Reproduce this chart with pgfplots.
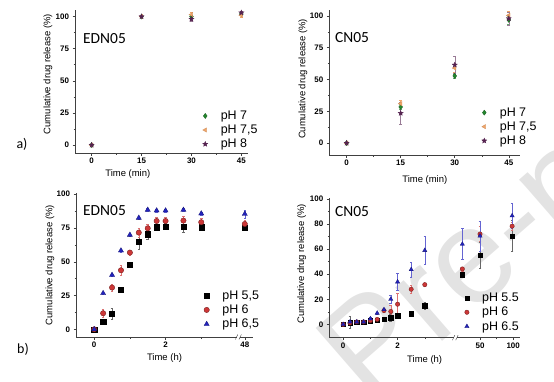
\documentclass[border=0pt]{standalone}
\usepackage{fontspec}
\setmainfont{Liberation Sans}
\newfontfamily\calfont{Carlito}
\usepackage{pgfplots}
\pgfplotsset{compat=1.18}
\usetikzlibrary{plotmarks}

\definecolor{cgreen}{RGB}{35,135,45}
\definecolor{corange}{RGB}{240,165,105}
\definecolor{cpurple}{RGB}{85,35,80}
\definecolor{cred}{RGB}{205,55,55}
\definecolor{cblue}{RGB}{35,35,190}

\pgfdeclareplotmark{fstar}{%
  \pgfpathmoveto{\pgfpointpolar{90}{\pgfplotmarksize}}%
  \pgfpathlineto{\pgfpointpolar{126}{0.45\pgfplotmarksize}}%
  \pgfpathlineto{\pgfpointpolar{162}{\pgfplotmarksize}}%
  \pgfpathlineto{\pgfpointpolar{198}{0.45\pgfplotmarksize}}%
  \pgfpathlineto{\pgfpointpolar{234}{\pgfplotmarksize}}%
  \pgfpathlineto{\pgfpointpolar{270}{0.45\pgfplotmarksize}}%
  \pgfpathlineto{\pgfpointpolar{306}{\pgfplotmarksize}}%
  \pgfpathlineto{\pgfpointpolar{342}{0.45\pgfplotmarksize}}%
  \pgfpathlineto{\pgfpointpolar{18}{\pgfplotmarksize}}%
  \pgfpathlineto{\pgfpointpolar{54}{0.45\pgfplotmarksize}}%
  \pgfpathclose\pgfusepathqfillstroke}

\pgfplotsset{
  base/.style={
    scale only axis, clip=false, anchor=south west,
    axis lines=left,
    axis line style={-, line width=0.5pt, black!75},
    tick align=outside,
    major tick length=2.5bp, minor tick length=1.5bp,
    every tick/.style={black!75, line width=0.5pt},
    /pgf/number format/assume math mode=true,
    ticklabel style={font=\fontsize{8}{8}\selectfont\bfseries},
    xticklabel style={yshift=1bp},
    label style={font=\fontsize{9.5}{10}\selectfont},
    ylabel={Cumulative drug release (\%)},
    legend style={draw=none, fill=none, font=\fontsize{12.5}{13}\selectfont,
      inner sep=0pt, row sep=0pt, anchor=west,
      /tikz/every odd column/.append style={column sep=11bp}},
    legend cell align=left,
    error bars/y dir=both, error bars/y explicit,
    error bars/error bar style={line width=0.4pt},
    error bars/error mark options={rotate=90, mark size=1.3pt, line width=0.4pt},
  },
  s1/.style={only marks, mark=diamond*, mark size=2.6pt, color=cgreen,
    mark options={fill=cgreen, draw=cgreen!70!black, line width=0.3pt},
    error bars/error bar style={cgreen!70}},
  s2/.style={only marks, mark=triangle*, mark size=2.5pt, color=corange,
    mark options={rotate=90, fill=corange, draw=corange!85!black, line width=0.3pt},
    error bars/error bar style={corange}},
  s3/.style={only marks, mark=fstar, mark size=2.7pt, color=cpurple,
    mark options={fill=cpurple, draw=cpurple, line width=0.3pt},
    error bars/error bar style={cpurple!60}},
  b1/.style={only marks, mark=square*, mark size=#1, color=black,
    mark options={fill=black, draw=black, line width=0.3pt},
    error bars/error bar style={black!60}},
  b2/.style={only marks, mark=*, mark size=#1, color=cred,
    mark options={fill=cred, draw=cred!60!black, line width=0.4pt},
    error bars/error bar style={cred!70}},
  b3/.style={only marks, mark=triangle*, mark size=#1, color=cblue,
    mark options={fill=cblue, draw=cblue!60!black, line width=0.3pt},
    error bars/error bar style={cblue!70}},
}

\begin{document}
\begin{tikzpicture}[x=1bp,y=1bp]
\path[use as bounding box] (0,0) rectangle (554,381);

% watermark
\node[anchor=base west, rotate=41, text=black!11, inner sep=0pt,
  font=\fontsize{135}{135}\selectfont] at (368,-25) {Pre-proof};

% ---------------- a) EDN05 ----------------
\begin{axis}[base, at={(75bp,228bp)},
  width=173bp, height=143.4bp,
  xmin=-5, xmax=47, ymin=-6.2, ymax=105.4,
  xtick={0,15,30,45}, minor x tick num=1,
  ytick={0,25,50,75,100}, minor y tick num=1,
  xlabel={Time (min)},
  xlabel style={at={(axis description cs:0.305,-0.146)}, anchor=center},
  ylabel style={at={(axis description cs:-0.156,0.55)}, anchor=center},
  legend style={at={(axis description cs:0.737,0.160)}},
]
\addplot+[s1] table[x=x,y=y,y error=e] {
x y e
0 0 0.5
15 100 0.6
30 100 1.2
45 102 1.0
};
\addplot+[s2] table[x=x,y=y,y error=e] {
x y e
0 0 0.5
15 100 0.6
30 101.5 1.5
45 101 1.2
};
\addplot+[s3] table[x=x,y=y,y error=e] {
x y e
0 0 0.5
15 100 0.6
30 98 1.8
45 103 1.2
};
\legend{pH 7, {pH 7,5}, pH 8}
\end{axis}

% ---------------- a) CN05 ----------------
\begin{axis}[base, at={(329.3bp,226bp)},
  width=191bp, height=145bp,
  xmin=-4.8, xmax=48.2, ymin=-9.4, ymax=104.7,
  xtick={0,15,30,45}, minor x tick num=1,
  ytick={0,25,50,75,100}, minor y tick num=1,
  xlabel={Time (min)},
  xlabel style={at={(axis description cs:0.5,-0.172)}, anchor=center},
  ylabel style={at={(axis description cs:-0.138,0.524)}, anchor=center},
  legend style={at={(axis description cs:0.797,0.195)}},
]
\addplot+[s1] table[x=x,y=y,y error=e] {
x y e
0 0 0.5
15 28.4 2
30 52.8 1.5
45 96.9 3
};
\addplot+[s2] table[x=x,y=y,y error=e] {
x y e
0 0 0.5
15 31 2.5
30 59 3
45 100.5 3
};
\addplot+[s3] table[x=x,y=y,y error=e] {
x y e
0 0 0.5
15 23.5 8.3
30 61.5 6.5
45 98 5
};
\legend{pH 7, {pH 7,5}, pH 8}
\end{axis}

% ---------------- b) EDN05 ----------------
\begin{axis}[base, at={(76bp,44bp)},
  width=177bp, height=143.7bp,
  xmin=-0.51, xmax=4.45, ymin=-5.7, ymax=100.7,
  xtick={0,2,4.22}, xticklabels={0,2,48}, minor xtick={1,3},
  ytick={0,25,50,75,100}, minor y tick num=1,
  xlabel={Time (h)},
  xlabel style={at={(axis description cs:0.5,-0.148)}, anchor=center},
  ylabel style={at={(axis description cs:-0.147,0.50)}, anchor=center},
  legend style={at={(axis description cs:0.722,0.188)}},
]
% x = hours; the last point (48 h) is drawn past the axis break at 4.22
\addplot+[b1=2.6pt] table[x=x,y=y,y error=e] {
x y e
0 0 0.5
0.25 5.7 1.5
0.5 11.4 4
0.75 29.6 1
1 48.1 1
1.25 65 6
1.5 70.4 4
1.75 75.6 2
2 76.3 2.5
2.5 75.8 4
3 75.6 2
4.22 75.3 2
};
\addplot+[b2=2.7pt] table[x=x,y=y,y error=e] {
x y e
0 0 0.5
0.25 11.9 3
0.5 30.9 2.5
0.75 43.7 4
1 56.8 2
1.25 71.6 3.5
1.5 74.8 3
1.75 80.2 3
2 80.2 3
2.5 80.5 3
3 79.3 3
4.22 78 3
};
\addplot+[b3=3pt] table[x=x,y=y,y error=e] {
x y e
0 0 0.5
0.25 26.7 1
0.5 40.2 1
0.75 58.3 1
1 69.9 1
1.25 82.5 1
1.5 88.4 1
1.75 87.9 1
2 87.9 1
2.5 88.4 1
3 85.7 1
4.22 85.4 3
};
\legend{{pH 5,5}, pH 6, {pH 6,5}}
\draw[white, line width=2.5bp] (axis cs:3.99,-5.7) -- (axis cs:4.09,-5.7);
\draw[black!75, line width=0.4pt] (axis cs:3.99,-5.7) ++(-1.2bp,-2.5bp) -- ++(2.4bp,5bp);
\draw[black!75, line width=0.4pt] (axis cs:4.09,-5.7) ++(-1.2bp,-2.5bp) -- ++(2.4bp,5bp);
\end{axis}

% ---------------- b) CN05 ----------------
\begin{axis}[base, at={(329.3bp,43.3bp)},
  width=190.7bp, height=139.4bp,
  xmin=-0.51, xmax=6.5, ymin=-10.6, ymax=100.5,
  xtick={0,2,5.03,6.25}, xticklabels={0,2,50,100}, minor xtick={1,3,5.64},
  ytick={0,20,40,60,80,100}, minor y tick num=1,
  xlabel={Time (h)},
  xlabel style={at={(axis description cs:0.5,-0.16)}, anchor=center},
  ylabel style={at={(axis description cs:-0.145,0.53)}, anchor=center},
  legend style={at={(axis description cs:0.709,0.182)}},
]
% x = hours up to 3 h; 24, 48, 96 h are drawn past the axis break at 4.38, 5.03, 6.21
\addplot+[b1=2.2pt] table[x=x,y=y,y error=e] {
x y e
0 0 0.5
0.25 1.5 4.8
0.5 2 0.8
0.75 2 0.8
1 3 0.8
1.25 3.5 0.8
1.5 4.2 0.8
1.75 5.3 3
2 6.9 1
2.5 8.5 1
3 14.8 3
4.38 39.7 1.5
5.03 55.4 10.5
6.21 70.5 12.5
};
\addplot+[b2=2.2pt] table[x=x,y=y,y error=e] {
x y e
0 0 0.5
0.25 1.2 1
0.5 2 0.8
0.75 2 0.8
1 3 0.8
1.25 4 0.8
1.5 11 1
1.75 10.3 5
2 16.1 8.6
2.5 28 3.5
3 31.7 1
4.38 44.2 1.5
5.03 72 6
6.21 78.3 3
};
\addplot+[b3=2.5pt] table[x=x,y=y,y error=e] {
x y e
0 0 0.5
0.25 2 1.5
0.5 2 0.8
0.75 2 0.8
1 4.5 1
1.25 9 1
1.5 11.8 1.5
1.75 20.1 3
2 33.9 6.6
2.5 43.7 6.2
3 59 11.3
4.38 64 12.3
5.03 70.5 12
6.21 86.6 10
};
\legend{pH 5.5, pH 6, pH 6.5}
\draw[white, line width=2.5bp] (axis cs:4.06,-10.6) -- (axis cs:4.18,-10.6);
\draw[black!75, line width=0.4pt] (axis cs:4.06,-10.6) ++(-1.2bp,-2.5bp) -- ++(2.4bp,5bp);
\draw[black!75, line width=0.4pt] (axis cs:4.18,-10.6) ++(-1.2bp,-2.5bp) -- ++(2.4bp,5bp);
\end{axis}

% panel titles and letters
\node[anchor=west, font=\calfont\fontsize{15.5}{16}\selectfont, inner sep=0pt] at (83,342) {EDN05};
\node[anchor=west, font=\calfont\fontsize{15.5}{16}\selectfont, inner sep=0pt] at (335,343) {CN05};
\node[anchor=west, font=\calfont\fontsize{15.5}{16}\selectfont, inner sep=0pt] at (83,170) {EDN05};
\node[anchor=west, font=\calfont\fontsize{15.5}{16}\selectfont, inner sep=0pt] at (335,169) {CN05};
\node[font=\calfont\fontsize{14}{14}\selectfont, inner sep=0pt] at (22,237) {a)};
\node[font=\calfont\fontsize{14}{14}\selectfont, inner sep=0pt] at (23,32) {b)};
\end{tikzpicture}
\end{document}
